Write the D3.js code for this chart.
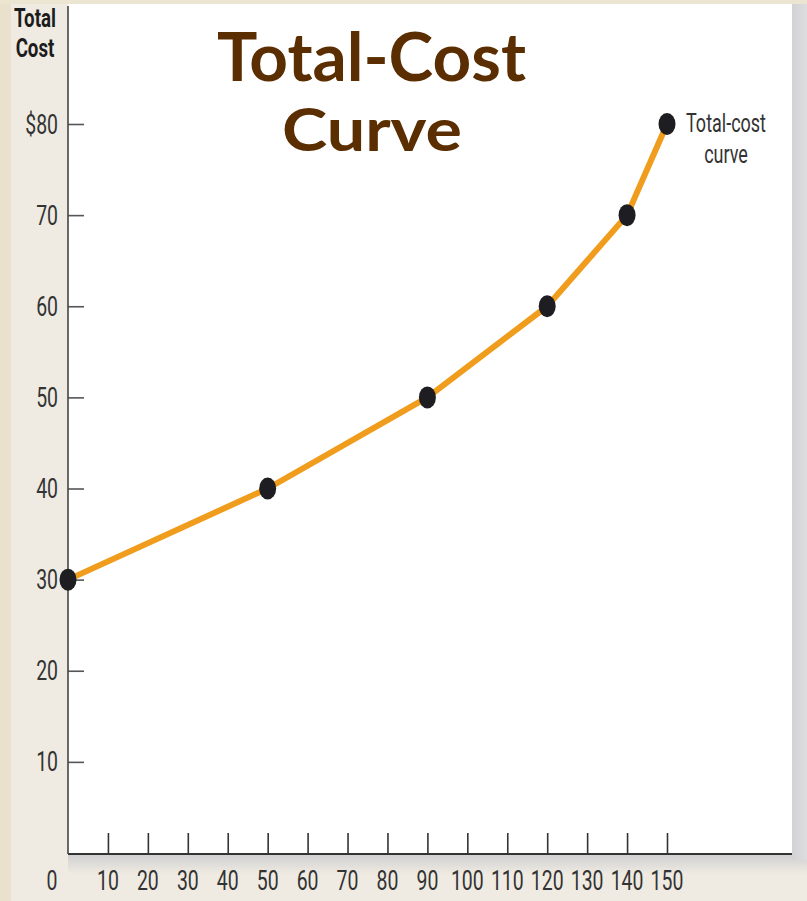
<!DOCTYPE html>
<html>
<head>
<meta charset="utf-8">
<script src="https://cdn.jsdelivr.net/npm/d3@7"></script>
<style>
  html, body { margin: 0; padding: 0; background: #efebe2; }
  svg { display: block; }
</style>
</head>
<body>
<svg id="chart" width="807" height="901"></svg>
<script>
// Total cost at each quantity of output
const quantities = [0, 50, 90, 120, 140, 150];
const totalCosts = [30, 40, 50, 60, 70, 80];

const xTicks = [10, 20, 30, 40, 50, 60, 70, 80, 90, 100, 110, 120, 130, 140, 150];
const yTicks = [10, 20, 30, 40, 50, 60, 70, 80];

const titleLines = ["Total-Cost", "Curve"];
const yTitleLines = ["Total", "Cost"];
const seriesLabel = ["Total-cost", "curve"];

const W = 807, H = 901;
const plot = { left: 68, right: 792, top: 4, bottom: 854 };

const svg = d3.select("#chart");
const defs = svg.append("defs");

// page background panels
svg.append("rect").attr("x", 0).attr("y", 0).attr("width", W).attr("height", H).attr("fill", "#efebe2");
svg.append("rect").attr("x", 0).attr("y", 0).attr("width", 11).attr("height", H).attr("fill", "#e9e1cc");
svg.append("rect").attr("x", 0).attr("y", 0).attr("width", W).attr("height", plot.top).attr("fill", "#ece5d2");

// soft grey shadow under the horizontal axis and to the right of the plot
const gShadow = defs.append("linearGradient").attr("id", "shadowDown").attr("x1", 0).attr("y1", 0).attr("x2", 0).attr("y2", 1);
gShadow.append("stop").attr("offset", 0).attr("stop-color", "#cfcfd1");
gShadow.append("stop").attr("offset", 1).attr("stop-color", "#efebe2");
svg.append("rect").attr("x", plot.left).attr("y", plot.bottom).attr("width", W - plot.left).attr("height", 20).attr("fill", "url(#shadowDown)");
const gRight = defs.append("linearGradient").attr("id", "shadowRight").attr("x1", 0).attr("y1", 0).attr("x2", 1).attr("y2", 0);
gRight.append("stop").attr("offset", 0).attr("stop-color", "#d2d2d6");
gRight.append("stop").attr("offset", 1).attr("stop-color", "#dedee0");
svg.append("rect").attr("x", plot.right).attr("y", plot.top).attr("width", W - plot.right).attr("height", plot.bottom - plot.top + 6).attr("fill", "url(#shadowRight)");

// white plotting area
svg.append("rect").attr("x", plot.left).attr("y", plot.top).attr("width", plot.right - plot.left).attr("height", plot.bottom - plot.top).attr("fill", "#ffffff");

const x = d3.scaleLinear().domain([0, 150]).range([plot.left, 667]);
const y = d3.scaleLinear().domain([0, 80]).range([plot.bottom - 1, 124]);

// narrow labels: Roboto squeezed horizontally
const tickFont = "'Roboto', 'Liberation Sans', sans-serif";
const squeeze = 0.72;

// x axis: ticks point upward into the plot
const xAxis = svg.append("g").attr("transform", `translate(0,${plot.bottom})`)
  .call(d3.axisTop(x).tickValues(xTicks).tickSize(21).tickFormat(""));
xAxis.select(".domain").remove();
xAxis.selectAll(".tick line").attr("stroke", "#333").attr("stroke-width", 1.6);
svg.append("line").attr("x1", plot.left).attr("x2", plot.right).attr("y1", plot.bottom).attr("y2", plot.bottom)
  .attr("stroke", "#333").attr("stroke-width", 2);

svg.append("g").selectAll("text").data([0].concat(xTicks)).join("text")
  .attr("transform", d => `translate(${d === 0 ? 52 : x(d)},890) scale(${squeeze},1)`)
  .attr("text-anchor", "middle")
  .attr("font-family", tickFont)
  .attr("font-size", 27)
  .attr("fill", "#333")
  .text(d => d);

// y axis: ticks point right into the plot
const yAxis = svg.append("g").attr("transform", `translate(${plot.left},0)`)
  .call(d3.axisRight(y).tickValues(yTicks).tickSize(16).tickFormat(""));
yAxis.select(".domain").remove();
yAxis.selectAll(".tick line").attr("stroke", "#555").attr("stroke-width", 1.6);
svg.append("line").attr("x1", plot.left).attr("x2", plot.left).attr("y1", plot.top + 2).attr("y2", plot.bottom)
  .attr("stroke", "#444").attr("stroke-width", 1.6);

svg.append("g").selectAll("text").data(yTicks).join("text")
  .attr("transform", d => `translate(58,${y(d) + 9.5}) scale(${squeeze},1)`)
  .attr("text-anchor", "end")
  .attr("font-family", tickFont)
  .attr("font-size", 27)
  .attr("fill", "#333")
  .text(d => d === 80 ? "$" + d : d);

// y axis title
svg.append("g").selectAll("text").data(yTitleLines).join("text")
  .attr("transform", (d, i) => `translate(35,${27 + i * 30}) scale(0.72,1)`)
  .attr("text-anchor", "middle")
  .attr("font-family", tickFont)
  .attr("font-weight", "bold")
  .attr("font-size", 26)
  .attr("fill", "#1c1c1c")
  .text(d => d);

// chart title
const titleSizes = [66, 60];
const titleWidths = [309, 180];
svg.append("g").selectAll("text").data(titleLines).join("text")
  .attr("x", (d, i) => i === 0 ? 217 : 282)
  .attr("y", (d, i) => i === 0 ? 81 : 151)
  .attr("font-family", "'Lato', 'DejaVu Sans', sans-serif")
  .attr("font-weight", "bold")
  .attr("font-size", (d, i) => titleSizes[i])
  .attr("textLength", (d, i) => titleWidths[i])
  .attr("lengthAdjust", "spacingAndGlyphs")
  .attr("fill", "#5a2e00")
  .text(d => d);

// total-cost curve
const pts = quantities.map((q, i) => [q, totalCosts[i]]);
const line = d3.line().x(d => x(d[0])).y(d => y(d[1])).curve(d3.curveLinear);
svg.append("path").datum(pts)
  .attr("d", line)
  .attr("fill", "none")
  .attr("stroke", "#f09c1c")
  .attr("stroke-width", 6)
  .attr("stroke-linejoin", "round");

svg.append("g").selectAll("ellipse").data(pts).join("ellipse")
  .attr("cx", d => x(d[0]))
  .attr("cy", d => y(d[1]))
  .attr("rx", 8.5)
  .attr("ry", 11)
  .attr("fill", "#1e1e22");

// series label
svg.append("g").selectAll("text").data(seriesLabel).join("text")
  .attr("transform", (d, i) => `translate(726,${132 + i * 31}) scale(0.72,1)`)
  .attr("text-anchor", "middle")
  .attr("font-family", tickFont)
  .attr("font-size", 25)
  .attr("fill", "#333")
  .text(d => d);
</script>
</body>
</html>
